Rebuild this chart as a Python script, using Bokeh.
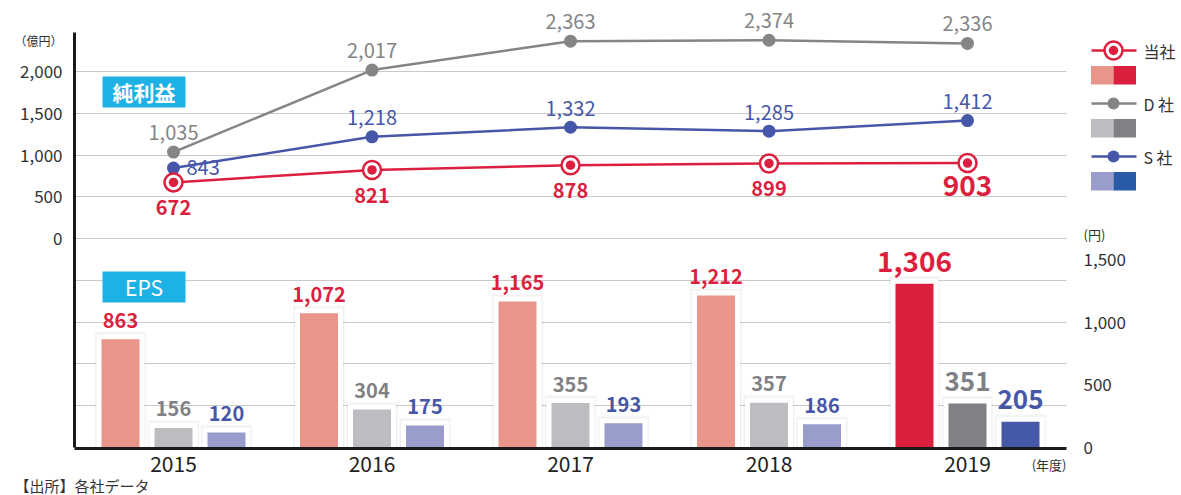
from bokeh.plotting import figure
from bokeh.models import Range1d, LinearAxis, FixedTicker, Grid, NumeralTickFormatter
from bokeh.core.properties import value
from bokeh.embed import file_html
from bokeh.resources import INLINE

# ---------------- data ----------------
years = [2015, 2016, 2017, 2018, 2019]
year_labels = ["2015", "2016", "2017", "2018", "2019"]
companies = ["当社", "D 社", "S 社"]
net_ours = [672, 821, 878, 899, 903]
net_d = [1035, 2017, 2363, 2374, 2336]
net_s = [843, 1218, 1332, 1285, 1412]
eps_ours = [863, 1072, 1165, 1212, 1306]
eps_d = [156, 304, 355, 357, 351]
eps_s = [120, 175, 193, 186, 205]
left_ticks = [0, 500, 1000, 1500, 2000]
right_ticks = [0, 500, 1000, 1500]
grid_vals = [-2500, -2000, -1500, -1000, -500, 0, 500, 1000, 1500, 2000]

# ---------------- styles ----------------
FONT = "Noto Sans CJK JP"
RED, RED_L = "#DC1F3E", "#E9958A"
GRAY, GRAY_L, GRAY_LINE = "#808184", "#BCBDC0", "#848587"
BLUE, BLUE_L, BLUE_LINE = "#4659A8", "#989DCC", "#4656A8"
BLUE_LEG_D = "#2A5BA7"
BOX = "#1EB1E6"
TXT = "#333333"

W, H = 1181, 495
PPY = 198.5            # pixels per year
UPP = 500 / 41.75      # main units per pixel
EPP = 1500 / 188.0     # eps units per pixel


def xd(px):
    return years[0] + (px - 173) / PPY


def yd(py):
    return (238 - py) * UPP


def ed(py):
    return (447 - py) * EPP


p = figure(width=W, height=H,
           x_range=Range1d(xd(0), xd(W)),
           y_range=Range1d(yd(H), yd(0)),
           output_backend="svg", toolbar_location=None,
           x_axis_location=None, y_axis_location=None,
           min_border=0, outline_line_color=None)
p.extra_y_ranges = {"eps": Range1d(ed(H), ed(0))}
p.center = []

# grid
grid = Grid(dimension=1, ticker=FixedTicker(ticks=grid_vals),
            grid_line_color="#c9c9c9", grid_line_width=1)
if "cross_bounds" in Grid.properties():
    grid.cross_bounds = (xd(74), xd(1066))
    p.add_layout(grid, "center")
else:
    p.segment(x0=[xd(74)] * len(grid_vals), x1=[xd(1066)] * len(grid_vals),
              y0=grid_vals, y1=grid_vals, line_color="#c9c9c9", line_width=1)

# ---------------- bars (EPS) ----------------
bw = 38 / PPY
off = 53 / PPY
eps_series = [eps_ours, eps_d, eps_s]
light = [RED_L, GRAY_L, BLUE_L]
dark = [RED, GRAY, BLUE]
txtcol = [RED, GRAY, BLUE_LINE]
for k, vals in enumerate(eps_series):
    xs = [y + (k - 1) * off for y in years]
    cols = [light[k]] * (len(years) - 1) + [dark[k]]
    # soft shadow + white halo
    p.vbar(x=xs, width=bw + 14 / PPY, top=[v + 8 * EPP for v in vals], bottom=0,
           fill_color="#000000", fill_alpha=0.025, line_color=None, y_range_name="eps")
    p.vbar(x=xs, width=bw + 12 / PPY, top=[v + 6.5 * EPP for v in vals], bottom=0,
           fill_color="#000000", fill_alpha=0.035, line_color=None, y_range_name="eps")
    p.vbar(x=xs, width=bw + 10 / PPY, top=[v + 5 * EPP for v in vals], bottom=0,
           fill_color="white", line_color=None, y_range_name="eps")
    p.vbar(x=xs, width=bw, top=vals, bottom=0, fill_color=cols, line_color=None,
           y_range_name="eps")
    n = len(years) - 1
    p.text(x=xs[:n], y=[v + 19 * EPP for v in vals[:n]],
           text=[f"{v:,}" for v in vals[:n]], y_range_name="eps",
           text_font=value(FONT), text_font_size="20px", text_font_style="bold",
           text_color=txtcol[k], text_align="center", text_baseline="middle")
    p.text(x=xs[n:], y=[v + 22 * EPP for v in vals[n:]],
           text=[f"{v:,}" for v in vals[n:]], y_range_name="eps",
           text_font=value(FONT), text_font_size="28px" if k == 0 else "26px",
           text_font_style="bold",
           text_color=txtcol[k], text_align="center", text_baseline="middle")

# ---------------- lines (net income) ----------------
p.line(years, net_d, line_color=GRAY_LINE, line_width=2.5)
p.scatter(years, net_d, size=13, fill_color=GRAY_LINE, line_color=None)
p.line(years, net_s, line_color=BLUE_LINE, line_width=2.5)
p.scatter(years, net_s, size=13, fill_color=BLUE_LINE, line_color=None)
p.line(years, net_ours, line_color=RED, line_width=2.5)
p.scatter(years, net_ours, size=18, fill_color="white", line_color=RED, line_width=2.5)
p.scatter(years, net_ours, size=9.5, fill_color=RED, line_color=None)

p.text(x=years, y=[v + 20 * UPP for v in net_d], text=[f"{v:,}" for v in net_d],
       text_font=value(FONT), text_font_size="20px", text_color=GRAY_LINE,
       text_align="center", text_baseline="middle")
p.text(x=years[1:], y=[v + 19 * UPP for v in net_s[1:]],
       text=[f"{v:,}" for v in net_s[1:]],
       text_font=value(FONT), text_font_size="20px", text_color=BLUE_LINE,
       text_align="center", text_baseline="middle")
p.text(x=[years[0] + 13 / PPY], y=[net_s[0] + 1 * UPP], text=[f"{net_s[0]:,}"],
       text_font=value(FONT), text_font_size="20px", text_color=BLUE_LINE,
       text_align="left", text_baseline="middle")
p.text(x=years[:-1], y=[v - 25.5 * UPP for v in net_ours[:-1]],
       text=[f"{v:,}" for v in net_ours[:-1]],
       text_font=value(FONT), text_font_size="20px", text_font_style="bold",
       text_color=RED, text_align="center", text_baseline="middle")
p.text(x=years[-1:], y=[v - 22 * UPP for v in net_ours[-1:]],
       text=[f"{v:,}" for v in net_ours[-1:]],
       text_font=value(FONT), text_font_size="28px", text_font_style="bold",
       text_color=RED, text_align="center", text_baseline="middle")

# ---------------- section boxes ----------------
p.quad(left=[xd(102), xd(102)], right=[xd(185), xd(185)],
       top=[yd(76), yd(271)], bottom=[yd(107), yd(302)],
       fill_color=BOX, line_color=None)
p.text(x=[xd(143.5)], y=[yd(91.5)], text=["純利益"], text_font=value(FONT),
       text_font_size="21px", text_font_style="bold", text_color="white",
       text_align="center", text_baseline="middle")
p.text(x=[xd(143.5)], y=[yd(286.5)], text=["EPS"], text_font=value(FONT),
       text_font_size="21px", text_color="white",
       text_align="center", text_baseline="middle")

# ---------------- unit texts ----------------
p.text(x=[xd(38)], y=[yd(40)], text=["（億円）"], text_font=value(FONT),
       text_font_size="12px", text_color=TXT, text_align="center", text_baseline="middle")
p.text(x=[xd(1083)], y=[yd(234)], text=["(円)"], text_font=value(FONT),
       text_font_size="13px", text_color=TXT, text_align="left", text_baseline="middle")
p.text(x=[xd(1066)], y=[yd(464)], text=["(年度)"], text_font=value(FONT),
       text_font_size="13px", text_color=TXT, text_align="right", text_baseline="middle")
p.text(x=[xd(14)], y=[yd(485)], text=["【出所】各社データ"], text_font=value(FONT),
       text_font_size="15px", text_color=TXT, text_align="left", text_baseline="middle")

# ---------------- legend (drawn) ----------------
leg_rows = [50, 103, 156]
leg_light = [RED_L, GRAY_L, BLUE_L]
leg_dark = [RED, GRAY, BLUE_LEG_D]
leg_line = [RED, GRAY_LINE, BLUE_LINE]
for k, name in enumerate(companies):
    ly = leg_rows[k]
    p.segment(x0=[xd(1091)], x1=[xd(1136)], y0=[yd(ly)], y1=[yd(ly)],
              line_color=leg_line[k], line_width=2.5)
    if k == 0:
        p.scatter([xd(1113)], [yd(ly)], size=18, fill_color="white",
                  line_color=RED, line_width=2.5)
        p.scatter([xd(1113)], [yd(ly)], size=9.5, fill_color=RED, line_color=None)
    else:
        p.scatter([xd(1113)], [yd(ly)], size=12, fill_color=leg_line[k], line_color=None)
    p.quad(left=[xd(1090.5), xd(1113)], right=[xd(1113), xd(1135.5)],
           top=[yd(ly + 15.5)] * 2, bottom=[yd(ly + 34)] * 2,
           fill_color=[leg_light[k], leg_dark[k]], line_color=None)
    p.text(x=[xd(1143)], y=[yd(ly)], text=[name], text_font=value(FONT),
           text_font_size="16px", text_color=TXT, text_align="left",
           text_baseline="middle")

# ---------------- axes ----------------
left = LinearAxis(ticker=FixedTicker(ticks=left_ticks),
                  formatter=NumeralTickFormatter(format="0,0"),
                  fixed_location=xd(74), bounds=(grid_vals[0], yd(32)),
                  axis_line_width=3, axis_line_color="#1a1a1a",
                  major_tick_in=0, major_tick_out=0, minor_tick_line_color=None,
                  major_label_standoff=12, major_label_text_font=FONT,
                  major_label_text_font_size="17px", major_label_text_color=TXT)
p.add_layout(left, "left")

right = LinearAxis(y_range_name="eps", ticker=FixedTicker(ticks=right_ticks),
                   formatter=NumeralTickFormatter(format="0,0"),
                   fixed_location=xd(1066), axis_line_color=None,
                   major_tick_in=0, major_tick_out=0, minor_tick_line_color=None,
                   major_label_standoff=17, major_label_text_font=FONT,
                   major_label_text_font_size="17px", major_label_text_color=TXT)
p.add_layout(right, "right")

bottom = LinearAxis(ticker=FixedTicker(ticks=years),
                    major_label_overrides={y: s for y, s in zip(years, year_labels)},
                    fixed_location=yd(447.5), bounds=(xd(74), xd(1066)),
                    axis_line_width=3, axis_line_color="#1a1a1a",
                    major_tick_in=0, major_tick_out=0, minor_tick_line_color=None,
                    major_label_standoff=8, major_label_text_font=FONT,
                    major_label_text_font_size="21px", major_label_text_color="#222222")
p.add_layout(bottom, "below")

with open("out.html", "w", encoding="utf-8") as f:
    f.write(file_html(p, INLINE))
